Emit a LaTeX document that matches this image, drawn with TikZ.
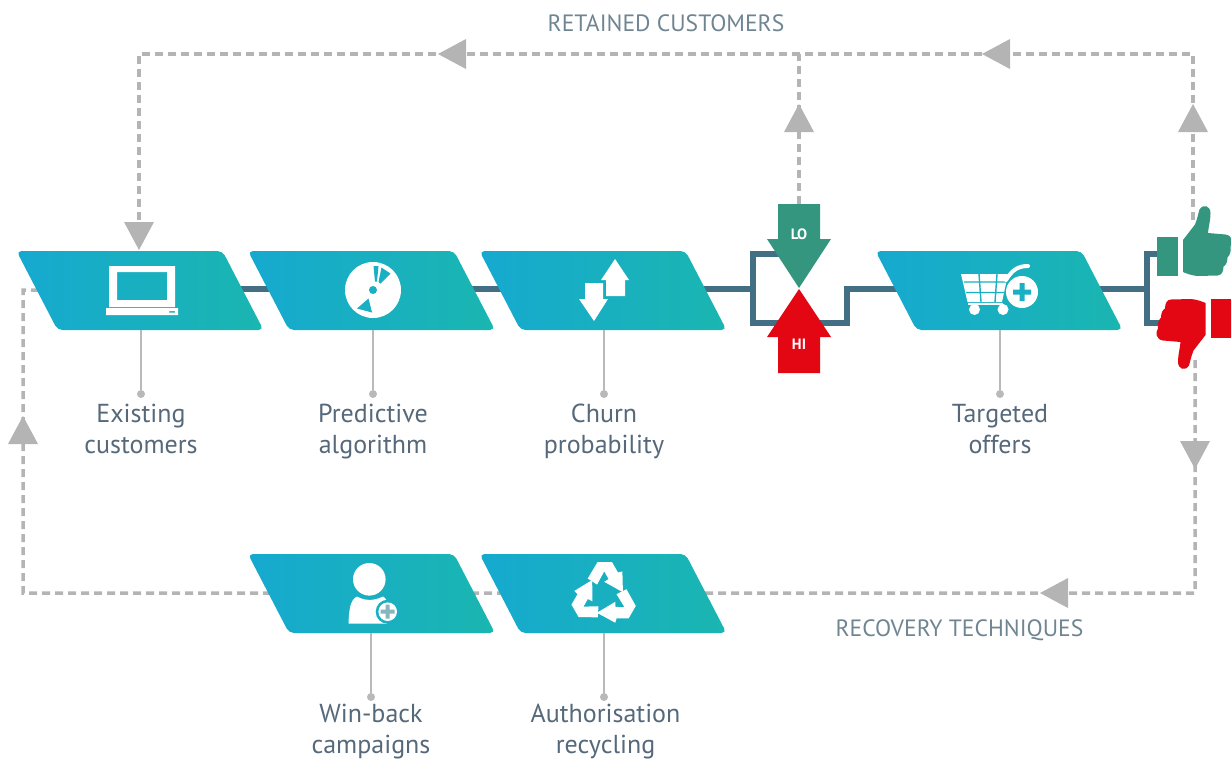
\documentclass[tikz,border=0pt]{standalone}
\usepackage{fontspec}
\setmainfont{PT Sans}
\usetikzlibrary{backgrounds, decorations.markings, positioning, shapes.geometric}
\definecolor{blockL}{HTML}{16A9D0}
\definecolor{blockR}{HTML}{1AB6B0}
\definecolor{blockM}{HTML}{18B0C2}
\definecolor{flowblue}{HTML}{436F84}
\definecolor{dashgrey}{HTML}{B4B4B4}
\definecolor{stemgrey}{HTML}{B9B9B9}
\definecolor{labelgrey}{HTML}{56697A}
\definecolor{capgrey}{HTML}{6F8591}
\definecolor{logreen}{HTML}{34967E}
\definecolor{hired}{HTML}{E30613}
\tikzset{
    blockbox/.style={
        rectangle, minimum width=247pt, minimum height=79pt, inner sep=0pt, outer sep=0pt
    },
    /pgf/decoration/tipat/.style={
        mark=at position #1 with {\fill[dashgrey] (-14,-15) -- (14,0) -- (-14,15) -- cycle;}
    },
    flowline/.style={draw=flowblue, line width=6pt},
    returnline/.style={draw=dashgrey, line width=3.5pt, dash pattern=on 8pt off 5pt},
    tips/.style={decoration={markings, tipat/.list={#1}}, postaction={decorate}},
    stem/.style={draw=stemgrey, line width=2pt},
    stemdot/.style={circle, fill=stemgrey, inner sep=0pt, minimum size=8pt},
    caption/.style={font=\fontsize{26}{31}\selectfont, text=labelgrey, align=center, inner sep=0pt},
    bandtext/.style={font=\fontsize{23.6}{26}\selectfont, text=capgrey, inner sep=0pt},
    levtext/.style={font=\fontsize{15}{16}\selectfont\bfseries, text=white, inner sep=0pt}
}
% a block: slanted sides, name and centre
\newcommand{\blockat}[2]{
    \node[blockbox] (#1) at (#2) {};
    \shade[left color=blockL, right color=blockR, rounded corners=5pt]
        (#1.north west) -- ([xshift=-41pt]#1.north east) -- (#1.south east)
        -- ([xshift=41pt]#1.south west) -- cycle;
}
% one hand, taken about the middle of its cuff
\newcommand{\thumbhand}[1]{
    \fill[#1] (-10.5,-19.5) rectangle (10.5,19.5);
    \fill[#1] (15.5,-16.5) -- (27.5,-32) .. controls (30,-38) and (31,-44) .. (32,-47)
        .. controls (36,-53) and (43,-51) .. (43,-43) .. controls (43,-36) and (41,-30) .. (40.5,-23.5)
        -- (58,-22) .. controls (65,-21) and (66,-14) .. (63,-10) .. controls (64,-5) and (62,-1) .. (60,1)
        .. controls (60,6) and (58,9) .. (56,10) .. controls (56,15) and (54,19) .. (50,19)
        -- (30,19.5) .. controls (24,19) and (19,17) .. (15.5,15.5) -- cycle;
}
\begin{document}
\begin{tikzpicture}[x=1pt, y=-1pt]
    \useasboundingbox (0,0) rectangle (1231,761);
    % blocks
    \blockat{existing}{140,290.5}
    \blockat{predictive}{371.5,290.5}
    \blockat{churn}{603,290.5}
    \blockat{offers}{999,290.5}
    \blockat{winback}{371.5,593.5}
    \blockat{recycling}{603,593.5}
    % stems and their captions
    \node[stemdot] (d1) at (141,394) {};
    \node[stemdot] (d2) at (373,394) {};
    \node[stemdot] (d3) at (604,394) {};
    \node[stemdot] (d4) at (1000,394) {};
    \node[stemdot] (d5) at (371,697) {};
    \node[stemdot] (d6) at (604,697) {};
    \draw[stem] (d1 |- existing.south) -- (d1);
    \draw[stem] (d2 |- predictive.south) -- (d2);
    \draw[stem] (d3 |- churn.south) -- (d3);
    \draw[stem] (d4 |- offers.south) -- (d4);
    \draw[stem] (d5 |- winback.south) -- (d5);
    \draw[stem] (d6 |- recycling.south) -- (d6);
    \node[caption, below=5.5pt of d1] (t1) {Existing\\customers};
    \node[caption, below=5.5pt of d2] (t2) {Predictive\\algorithm};
    \node[caption, below=5.5pt of d3] (t3) {Churn\\probability};
    \node[caption, below=5.5pt of d4] (t4) {Targeted\\offers};
    \node[caption, below=3pt of d5] (t5) {Win-back\\campaigns};
    \node[caption, below=3pt of d6, xshift=1.5pt] (t6) {Authorisation\\recycling};
    \node[bandtext] (retained) at (666,23) {RETAINED CUSTOMERS};
    \node[bandtext] (recovery) at (959.5,630) {RECOVERY TECHNIQUES};
    % lo / hi arrows
    \fill[logreen] (778,204) -- (820,204) -- (820,239) -- (831,239) -- (799,288) -- (767,239) -- (778,239) -- cycle;
    \fill[hired] (778,373) -- (820,373) -- (820,337) -- (831,337) -- (799,289) -- (767,337) -- (778,337) -- cycle;
    \node[levtext] (lo) at (799,234) {LO};
    \node[levtext] (hi) at (799,344) {HI};
    % thumbs
    \begin{scope}[shift={(1167.5,256.5)}]
        \thumbhand{logreen}
    \end{scope}
    \begin{scope}[shift={(1221,318.5)}, rotate=180]
        \thumbhand{hired}
    \end{scope}
    \coordinate (up) at (1193,220);
    \coordinate (down) at (1195,360);
    \coordinate (lotop) at (799,204);
    \coordinate (tl) at (139,251);
    \coordinate (fa) at (753,288.5);
    \coordinate (fb) at (847,288.5);
    \coordinate (fc) at (1147,288.5);
    % connectors go behind everything
    \begin{pgfonlayer}{background}
        \draw[flowline] (existing.center |- fa) -- (predictive.center |- fa);
        \draw[flowline] (predictive.center |- fa) -- (churn.center |- fa);
        \draw[flowline] (churn.center |- fa) -- (fa);
        \draw[flowline] (780,254) -- (753,254) -- (753,322.5) -- (847,322.5) -- (fb) -- (offers.center |- fa);
        \draw[flowline] (offers.center |- fa) -- (fc);
        \draw[flowline] (1160,254) -- (1147,254) -- (1147,322.5) -- (1170,322.5);
        \draw[returnline, tips={102pt,363pt,907pt,1402pt}] (up) -- (1193,54) -- (139,54) -- (tl);
        \draw[returnline, tips={86pt}] (lotop) -- (799,54);
        \draw[returnline, tips={95pt,374pt,1568pt}] (down) -- (1195,593) -- (23,593) -- (23,290) -- (existing.center);
    \end{pgfonlayer}
    % laptop
    \fill[white, even odd rule] (109,266) rectangle (175,307) (117,272) rectangle (167,300);
    \fill[white, even odd rule] (106,308) rectangle (178,315) (169,311) rectangle (175,312.5);
    % disc
    \fill[white] (373,290) circle (28);
    \fill[blockM] (373,290) circle (4);
    \fill[blockM] (373.5,266) -- (378.5,266) -- (377,281.5) -- (375,281.5) -- cycle;
    \fill[blockM] (381.5,267.5) -- (390.5,273.5) -- (380.5,283.5) -- (378.5,282) -- cycle;
    \fill[blockM] (368.5,298.5) -- (372,312.5) -- (357,308.5) -- cycle;
    % churn arrows
    \fill[white] (615,259) -- (629,280) -- (625,280) -- (625,296) -- (606,296) -- (606,280) -- (601,280) -- cycle;
    \fill[white] (594,321) -- (608,299) -- (603,299) -- (603,283) -- (585,283) -- (585,299) -- (579,299) -- cycle;
    % cart
    \fill[white] (961,274) -- (1008,274) -- (1002,302) -- (967.5,302) -- cycle;
    \draw[blockM, line width=1.4pt] (964,282) -- (1006,282) (966,292.5) -- (1004,292.5) (979,274) -- (981,302) (997,274) -- (995,302);
    \draw[white, line width=2pt] (968,304) -- (1003,304);
    \fill[white] (974.5,309.5) circle (5.5) (1003,309.5) circle (5.5);
    \draw[white, line width=4pt, line cap=round] (1006,280) .. controls (1012,270) and (1018,266) .. (1028,266);
    \fill[white] (1022,292) circle (16);
    \fill[blockM] (1019.5,283) rectangle (1024.5,301) (1013,289.5) rectangle (1031,294.5);
    % person
    \fill[white] (369.3,579.3) circle (16.3);
    \fill[white] (348.5,623.5) .. controls (349,610) and (350,600) .. (357,596.5)
        .. controls (365,601) and (374,601) .. (383,596.5) .. controls (389,600) and (390,610) .. (387,623.5) -- cycle;
    \fill[blockM] (387.7,611.7) circle (12);
    \fill[white] (387.7,611.7) circle (9.3);
    \fill[stemgrey!70!blockM] (385.7,604.7) rectangle (389.7,618.7) (380.7,609.7) rectangle (394.7,613.7);
    % recycling arrows, one turned three times
    \foreach \turn in {0,120,240}{
        \begin{scope}[shift={(604,595)}, rotate=\turn, scale=1.1]
            \fill[white] (-14.8,-15) -- (-5.8,-30) -- (7.2,-30) -- (12.7,-20.5) -- (16.7,-21.5)
                -- (17.2,-2.5) -- (0.2,-12) -- (4.2,-14.5) -- (0.2,-21.5) -- (-6.3,-9.5) -- cycle;
        \end{scope}
    }
\end{tikzpicture}
\end{document}
